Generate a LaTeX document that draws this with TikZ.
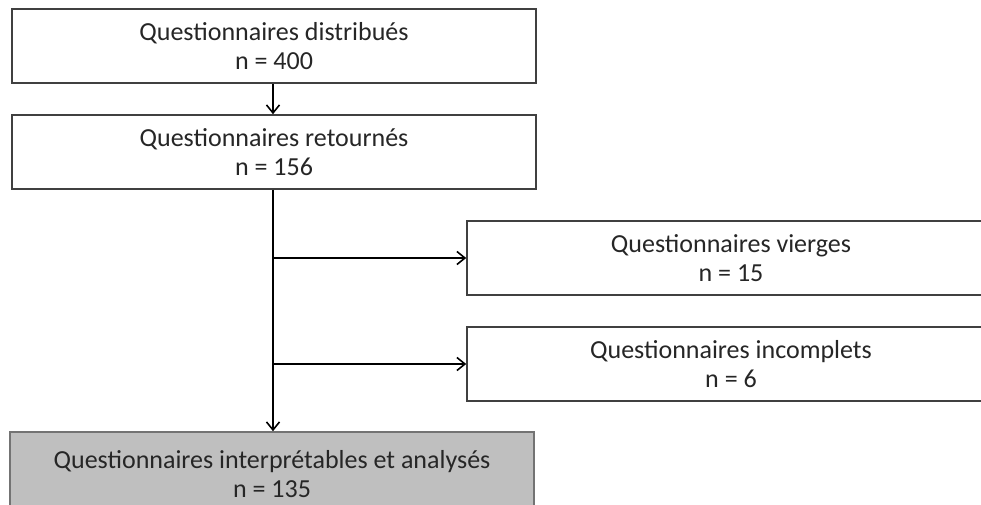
\documentclass[tikz,border=0pt]{standalone}
\usepackage{fontspec}
\setmainfont{Carlito}
\usetikzlibrary{arrows.meta}
\tikzset{
  flowbox/.style={draw=black!75, line width=1.6pt, minimum width=524pt, minimum height=74pt,
    inner sep=0pt, align=center, font=\fontsize{26}{29}\selectfont, text=black!85},
  sidebox/.style={flowbox, minimum width=528pt},
  endbox/.style={flowbox, fill=black!25, draw=black!55, minimum height=84pt},
  flowarr/.style={line width=1.4pt, -{Straight Barb[length=8pt,width=13pt,line width=1.6pt]}},
}
\begin{document}
\begin{tikzpicture}[x=1pt, y=-1pt]
\useasboundingbox (0,0) rectangle (981,504);
\clip (0,0) rectangle (981,504);
\fill[white] (0,0) rectangle (981,504);
% boxes
\node[flowbox] (distrib) at (274,46) {Questionnaires distribués\\n = 400};
\node[flowbox] (retour) at (274,152) {Questionnaires retournés\\n = 156};
\node[sidebox] (vierge) at (731,258) {Questionnaires vierges\\n = 15};
\node[sidebox] (incompl) at (731,364) {Questionnaires incomplets\\n = 6};
\node[endbox] (analyse) at (272,474) {Questionnaires interprétables et analysés\\n = 135};
% connectors
\draw[flowarr] (distrib.south -| 273,0) -- (retour.north -| 273,0);
\draw[flowarr] (retour.south -| 273,0) -- (analyse.north -| 273,0);
\draw[flowarr] (vierge.west -| 273,0) -- (vierge.west);
\draw[flowarr] (incompl.west -| 273,0) -- (incompl.west);
\end{tikzpicture}
\end{document}
